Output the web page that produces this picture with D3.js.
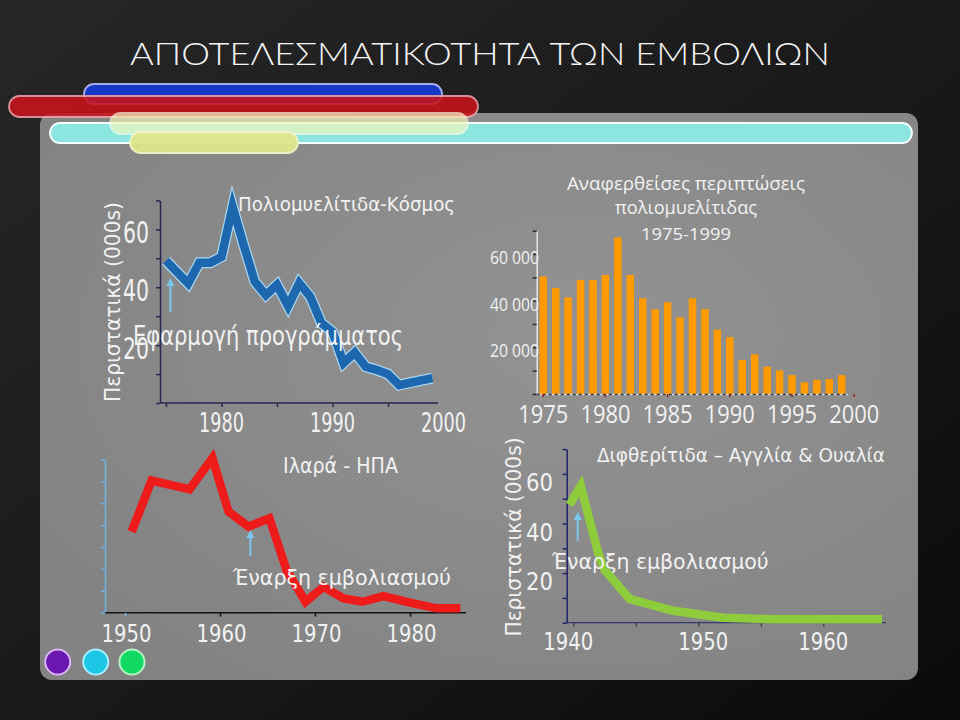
<!DOCTYPE html>
<html><head><meta charset="utf-8">
<script src="https://cdn.jsdelivr.net/npm/d3@7"></script>
<style>html,body{margin:0;padding:0;background:#000;} svg{display:block}</style>
</head><body>
<svg id="c" width="960" height="720"></svg>
<script>
// ---------------- DATA ----------------
const mainTitle = "ΑΠΟΤΕΛΕΣΜΑΤΙΚΟΤΗΤΑ ΤΩΝ ΕΜΒΟΛΙΩΝ";
const casesAxisTitle = "Περιστατικά (000s)";
const vaccineStartNote = "Έναρξη εμβολιασμού";

// Chart 1: Polio - World (thousands)
const polioWorldTitle = "Πολιομυελίτιδα-Κόσμος";
const polioWorldNote = "Εφαρμογή προγράμματος";
const polioWorldYears = [1975,1976,1977,1978,1979,1980,1981,1982,1983,1984,1985,1986,1987,1988,1989,1990,1991,1992,1993,1994,1995,1996,1997,1998,1999];
const polioWorldCases = [49.2,45.2,41.3,48.5,48.5,50.5,67.8,54.5,41.9,37.3,40.8,33.5,41.4,36.7,27.6,24.6,13.8,17.4,12.5,11.4,10,6.2,7,7.8,8.6];
const polioWorldYTicks = [0,10,20,30,40,50,60,70];
const polioWorldYLabels = [20,40,60];
const polioWorldXTicks = [1975,1980,1985,1990,1995];
const polioWorldXLabels = [1980,1990,2000];
const polioWorldArrowYear = 1975.4;

// Chart 2: Measles - USA (thousands)
const measlesTitle = "Ιλαρά - ΗΠΑ";
const measlesYears = [1950.7,1952.8,1956.8,1959.2,1960.9,1963,1965.2,1967,1969,1970.9,1973,1975,1977.2,1980,1982.8,1985.3];
const measlesCases = [370,603,563,705,461,393,431,195,50,118,65,50,76,46,20,20];
const measlesYTicks = [0,100,200,300,400,500,600,700];
const measlesXTicks = [1950,1960,1970,1980];
const measlesArrowYear = 1963.2;

// Chart 3: Reported polio cases 1975-1999
const polioBarTitle = ["Αναφερθείσες περιπτώσεις","πολιομυελίτιδας","1975-1999"];
const polioBarYears = [1975,1976,1977,1978,1979,1980,1981,1982,1983,1984,1985,1986,1987,1988,1989,1990,1991,1992,1993,1994,1995,1996,1997,1998,1999];
const polioBarCases = [50400,45400,41400,48900,48900,51000,67100,51000,41000,36300,39300,32900,41000,36400,27600,24400,14600,17000,11700,10100,8100,5000,6100,6400,8100];
const polioBarYTicks = [0,10000,20000,30000,40000,50000,60000,70000];
const polioBarYLabels = [20000,40000,60000];
const polioBarXLabels = [1975,1980,1985,1990,1995,2000];

// Chart 4: Diphtheria - England & Wales (thousands)
const diphTitle = "Διφθερίτιδα – Αγγλία & Ουαλία";
const diphYears = [1939.7,1940.6,1941.3,1942,1942.5,1944.5,1948,1952,1956,1964.7];
const diphCases = [47.5,55.2,41.4,28,21.3,9.6,4.8,2,1.4,1.4];
const diphYTicks = [0,10,20,30,40,50,60,70];
const diphYLabels = [20,40,60];
const diphXTicks = [1940,1945,1950,1955,1960];
const diphXLabels = [1940,1950,1960];
const diphArrowYear = 1940.35;

// ---------------- DRAW ----------------
const svg = d3.select("#c");
const defs = svg.append("defs");
const W = "#f2f2f2";
const VER = "'DejaVu Sans', Verdana, sans-serif";
const CAL = "'Open Sans', Lato, sans-serif";

function txt(parent, o) {
  const t = parent.append("text")
    .attr("x", o.x).attr("y", o.y)
    .attr("fill", o.fill || W)
    .attr("font-family", o.family || VER)
    .attr("font-size", o.size)
    .attr("font-weight", o.weight || 400)
    .attr("text-anchor", o.anchor || "start")
    .text(o.text);
  if (o.len) t.attr("textLength", o.len).attr("lengthAdjust", "spacingAndGlyphs");
  if (o.transform) t.attr("transform", o.transform);
  return t;
}

// background
const bg = defs.append("linearGradient").attr("id","bg").attr("x1",0).attr("y1",0).attr("x2",1).attr("y2",1);
bg.append("stop").attr("offset","0%").attr("stop-color","#242424");
bg.append("stop").attr("offset","60%").attr("stop-color","#141414");
bg.append("stop").attr("offset","100%").attr("stop-color","#070707");
svg.append("rect").attr("width",960).attr("height",720).attr("fill","url(#bg)");
const pat = defs.append("pattern").attr("id","tex").attr("width",4).attr("height",4).attr("patternUnits","userSpaceOnUse");
pat.append("path").attr("d","M0,4 L4,0").attr("stroke","#ffffff").attr("stroke-opacity",0.05).attr("stroke-width",1);
svg.append("rect").attr("width",960).attr("height",720).attr("fill","url(#tex)");

// title
txt(svg, {x:480, y:65, text:mainTitle, size:32, family:"Lato, 'Open Sans', sans-serif", weight:300, anchor:"middle", len:700, fill:"#f4f4f4"});

// panel
const pg = defs.append("radialGradient").attr("id","panel").attr("cx","62%").attr("cy","40%").attr("r","75%");
pg.append("stop").attr("offset","0%").attr("stop-color","#919191");
pg.append("stop").attr("offset","100%").attr("stop-color","#818181");
svg.append("rect").attr("x",40).attr("y",113).attr("width",878).attr("height",567).attr("rx",12).attr("fill","url(#panel)");
svg.append("rect").attr("x",40).attr("y",113).attr("width",878).attr("height",567).attr("rx",12).attr("fill","url(#tex)");

// decorative ribbons
const ribbons = [
  {x:84,y:84,w:358,h:20,fill:"#1538c6",stroke:"#a3aef2",op:1},
  {x:9,y:96,w:469,h:21,fill:"#c8141a",stroke:"#f0a0a8",op:0.88},
  {x:50,y:123,w:862,h:20,fill:"#8ce6e0",stroke:"#f4ffff",op:1},
  {x:110,y:113,w:358,h:21,fill:"#f4f8bc",stroke:"#fbfde4",op:0.68},
  {x:130,y:132,w:168,h:21,fill:"#dfe68c",stroke:"#f3f6c8",op:0.95}
];
svg.append("g").selectAll("rect").data(ribbons).join("rect")
  .attr("x",d=>d.x).attr("y",d=>d.y).attr("width",d=>d.w).attr("height",d=>d.h)
  .attr("rx",d=>d.h/2).attr("fill",d=>d.fill).attr("stroke",d=>d.stroke)
  .attr("stroke-width",1.8).attr("opacity",d=>d.op);

function arrow(parent, x, y1, y2) {
  parent.append("line").attr("x1",x).attr("x2",x).attr("y1",y1).attr("y2",y2+6)
    .attr("stroke","#7cc6ee").attr("stroke-width",2);
  parent.append("path").attr("d",`M${x-4},${y2+8} L${x},${y2} L${x+4},${y2+8} Z`).attr("fill","#7cc6ee");
}
function styleAxis(g, color, w) {
  g.select(".domain").attr("stroke",color).attr("stroke-width",w||1.5);
  g.selectAll(".tick line").attr("stroke",color).attr("stroke-width",w||1.5);
  g.selectAll(".tick text").remove();
}

// ---------- Chart 1 ----------
{
  const g = svg.append("g");
  const x = d3.scaleLinear().domain([1975,2000]).range([166,443.5]);
  const y = d3.scaleLinear().domain([0,70]).range([403,200.4]);
  const navy = "#262650";
  const ya = g.append("g").attr("transform","translate(160,0)")
    .call(d3.axisLeft(y).tickValues(polioWorldYTicks).tickSize(4).tickSizeOuter(0).tickFormat(""));
  styleAxis(ya, navy);
  g.append("line").attr("x1",x(1974.5)).attr("x2",x(1999.5)).attr("y1",y(0)).attr("y2",y(0)).attr("stroke",navy).attr("stroke-width",1.5);
  const xa = g.append("g").attr("transform",`translate(0,${y(0)})`)
    .call(d3.axisBottom(x).tickValues(polioWorldXTicks).tickSize(4).tickSizeOuter(0).tickFormat(""));
  xa.select(".domain").remove();
  styleAxis(xa, navy);
  const line = d3.line().x((d,i)=>x(polioWorldYears[i])).y(d=>y(d));
  g.append("path").attr("d",line(polioWorldCases)).attr("fill","none").attr("stroke","#a9d6f0").attr("stroke-width",11).attr("stroke-linejoin","miter").attr("stroke-miterlimit",6);
  g.append("path").attr("d",line(polioWorldCases)).attr("fill","none").attr("stroke","#1c67ad").attr("stroke-width",8.5).attr("stroke-linejoin","miter").attr("stroke-miterlimit",6);
  polioWorldYLabels.forEach(v => txt(g,{x:149,y:y(v)+14,text:String(v),size:30,anchor:"end",len:26}));
  polioWorldXLabels.forEach(v => txt(g,{x:x(v),y:432,text:String(v),size:27,anchor:"middle",len:45}));
  txt(g,{x:238,y:211,text:polioWorldTitle,size:20,len:217});
  arrow(g, x(polioWorldArrowYear), 312, 278);
  txt(g,{x:133,y:345,text:polioWorldNote,size:26,len:270});
  txt(g,{x:0,y:0,text:casesAxisTitle,size:21,anchor:"middle",len:200,transform:"translate(120,302) rotate(-90)"});
}

// ---------- Chart 2 ----------
{
  const g = svg.append("g");
  const x = d3.scaleLinear().domain([1950,1980]).range([125,410]);
  const y = d3.scaleLinear().domain([0,700]).range([612.7,459.3]);
  const blue = "#6db5df";
  const ya = g.append("g").attr("transform","translate(105,0)")
    .call(d3.axisLeft(y).tickValues(measlesYTicks).tickSize(4).tickSizeOuter(0).tickFormat(""));
  styleAxis(ya, blue);
  g.append("line").attr("x1",x(1947.9)).attr("x2",x(1985.9)).attr("y1",y(0)).attr("y2",y(0)).attr("stroke","#111").attr("stroke-width",1.5);
  const xa = g.append("g").attr("transform",`translate(0,${y(0)})`)
    .call(d3.axisBottom(x).tickValues(measlesXTicks).tickSize(4).tickSizeOuter(0).tickFormat(""));
  xa.select(".domain").remove();
  styleAxis(xa, "#111");
  xa.select(".tick line").attr("stroke", blue);
  const line = d3.line().x((d,i)=>x(measlesYears[i])).y(d=>y(d));
  g.append("path").attr("d",line(measlesCases)).attr("fill","none").attr("stroke","#ee1b1b").attr("stroke-width",8.5).attr("stroke-linejoin","miter").attr("stroke-miterlimit",6);
  measlesXTicks.forEach(v => txt(g,{x:x(v)+1.5,y:642,text:String(v),size:24,anchor:"middle",len:50}));
  txt(g,{x:283,y:473,text:measlesTitle,size:22,len:115});
  arrow(g, x(measlesArrowYear), 556, 530);
  txt(g,{x:233,y:585,text:vaccineStartNote,size:21.5,len:218});
}

// ---------- Chart 3 ----------
{
  const g = svg.append("g");
  const x = d3.scaleBand().domain(polioBarYears).range([537,848]).paddingInner(0.4).paddingOuter(0.2);
  const y = d3.scaleLinear().domain([0,70000]).range([394,230.7]);
  const xl = d3.scaleLinear().domain([polioBarYears[0], polioBarYears[polioBarYears.length-1]])
    .range([x(polioBarYears[0])+x.bandwidth()/2, x(polioBarYears[polioBarYears.length-1])+x.bandwidth()/2]);
  g.selectAll("rect.bar").data(polioBarCases).join("rect").attr("class","bar")
    .attr("x",(d,i)=>x(polioBarYears[i])).attr("width",x.bandwidth())
    .attr("y",d=>y(d)).attr("height",d=>y(0)-y(d)).attr("fill","#ff9a00");
  const ya = g.append("g").attr("transform","translate(536.7,0)")
    .call(d3.axisLeft(y).tickValues(polioBarYTicks).tickSize(4).tickSizeOuter(0).tickFormat(""));
  ya.select(".domain").attr("stroke","#e6e6e6").attr("stroke-width",1.5);
  ya.selectAll(".tick line").attr("stroke","#2c2c2c").attr("stroke-width",1.5);
  ya.selectAll(".tick text").remove();
  g.append("line").attr("x1",536.7).attr("x2",848).attr("y1",y(0)+0.5).attr("y2",y(0)+0.5).attr("stroke","#d8d8d8").attr("stroke-width",1.5);
  g.append("line").attr("x1",536.7).attr("x2",848).attr("y1",y(0)+0.5).attr("y2",y(0)+0.5).attr("stroke","#333").attr("stroke-width",1.5).attr("stroke-dasharray","3,3");
  g.selectAll("line.xt").data(polioBarXLabels).join("line").attr("class","xt")
    .attr("x1",d=>xl(d)).attr("x2",d=>xl(d)).attr("y1",y(0)).attr("y2",y(0)+3).attr("stroke","#9a1a1a").attr("stroke-width",1.5);
  const fmt = v => d3.format(",")(v).replace(/,/g," ");
  polioBarYLabels.forEach(v => txt(g,{x:539,y:y(v)+10,text:fmt(v),size:18,family:CAL,anchor:"end",len:49}));
  polioBarXLabels.forEach(v => txt(g,{x:xl(v),y:423.3,text:String(v),size:25,family:CAL,anchor:"middle",len:50}));
  const tl = [{y:190,len:238,size:19},{y:213.5,len:142,size:19},{y:240,len:90,size:17}];
  polioBarTitle.forEach((s,i) => txt(g,{x:686,y:tl[i].y,text:s,size:tl[i].size,family:CAL,anchor:"middle",len:tl[i].len}));
}

// ---------- Chart 4 ----------
{
  const g = svg.append("g");
  const x = d3.scaleLinear().domain([1940,1960]).range([573.3,823.3]);
  const y = d3.scaleLinear().domain([0,70]).range([622.7,449.1]);
  const navy = "#22226a";
  const ya = g.append("g").attr("transform","translate(566.7,0)")
    .call(d3.axisLeft(y).tickValues(diphYTicks).tickSize(4).tickSizeOuter(0).tickFormat(""));
  styleAxis(ya, navy);
  g.append("line").attr("x1",566.7).attr("x2",x(1965)).attr("y1",y(0)).attr("y2",y(0)).attr("stroke",navy).attr("stroke-width",1.2).attr("stroke-opacity",0.8);
  const xa = g.append("g").attr("transform",`translate(0,${y(0)})`)
    .call(d3.axisBottom(x).tickValues(diphXTicks).tickSize(4).tickSizeOuter(0).tickFormat(""));
  xa.select(".domain").remove();
  styleAxis(xa, "#3a3a3a", 1.2);
  const line = d3.line().x((d,i)=>x(diphYears[i])).y(d=>y(d));
  g.append("path").attr("d",line(diphCases)).attr("fill","none").attr("stroke","#8fcc3c").attr("stroke-width",8.5).attr("stroke-linejoin","miter").attr("stroke-miterlimit",6);
  diphYLabels.forEach(v => txt(g,{x:553,y:y(v)+17,text:String(v),size:24,anchor:"end",len:27}));
  const xlabOffset = {1940:-5, 1950:5, 1960:0};
  diphXLabels.forEach(v => txt(g,{x:x(v)+xlabOffset[v],y:650,text:String(v),size:24,anchor:"middle",len:50}));
  txt(g,{x:597,y:461.7,text:diphTitle,size:20,len:288});
  arrow(g, x(diphArrowYear), 541, 512);
  txt(g,{x:551.7,y:569.3,text:vaccineStartNote,size:21.5,len:217});
  txt(g,{x:0,y:0,text:casesAxisTitle,size:21,anchor:"middle",len:199,transform:"translate(521,537) rotate(-90)"});
}

// ---------- bottom circles ----------
const dots = [{cx:57.7,fill:"#6a18b0",stroke:"#dcb4f4"},{cx:95.7,fill:"#1ec6e6",stroke:"#a6f0ff"},{cx:132,fill:"#12d864",stroke:"#b6f2c6"}];
svg.append("g").selectAll("circle").data(dots).join("circle")
  .attr("cx",d=>d.cx).attr("cy",662).attr("r",12.5)
  .attr("fill",d=>d.fill).attr("stroke",d=>d.stroke).attr("stroke-width",2);
</script>
</body></html>
